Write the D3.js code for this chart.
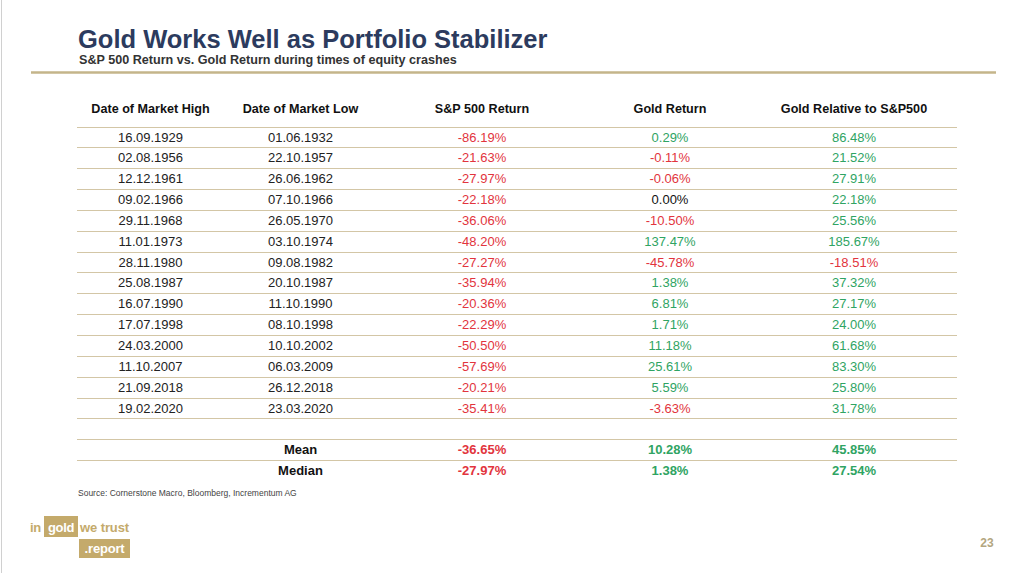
<!DOCTYPE html>
<html><head><meta charset="utf-8">
<script src="https://cdn.jsdelivr.net/npm/d3@7"></script>
<style>html,body{margin:0;padding:0;background:#fff;}svg{display:block;font-family:"Liberation Sans",Arial,sans-serif;}</style>
</head><body>
<script>
const columns = ["Date of Market High","Date of Market Low","S&P 500 Return","Gold Return","Gold Relative to S&P500"];
const marketHigh = ["16.09.1929","02.08.1956","12.12.1961","09.02.1966","29.11.1968","11.01.1973","28.11.1980","25.08.1987","16.07.1990","17.07.1998","24.03.2000","11.10.2007","21.09.2018","19.02.2020"];
const marketLow = ["01.06.1932","22.10.1957","26.06.1962","07.10.1966","26.05.1970","03.10.1974","09.08.1982","20.10.1987","11.10.1990","08.10.1998","10.10.2002","06.03.2009","26.12.2018","23.03.2020"];
const spReturn = [-86.19,-21.63,-27.97,-22.18,-36.06,-48.20,-27.27,-35.94,-20.36,-22.29,-50.50,-57.69,-20.21,-35.41];
const goldReturn = [0.29,-0.11,-0.06,0.00,-10.50,137.47,-45.78,1.38,6.81,1.71,11.18,25.61,5.59,-3.63];
const goldRelative = [86.48,21.52,27.91,22.18,25.56,185.67,-18.51,37.32,27.17,24.00,61.68,83.30,25.80,31.78];
const summaryLabels = ["Mean","Median"];
const summarySP = [-36.65,-27.97];
const summaryGold = [10.28,1.38];
const summaryRel = [45.85,27.54];

const W=1024,H=573;
const svg=d3.select("body").append("svg").attr("width",W).attr("height",H);
const RED="#e2343d", GREEN="#2fa463", BLACK="#111", LINE="#d3c6a6";

svg.append("line").attr("x1",1.5).attr("x2",1.5).attr("y1",0).attr("y2",H).attr("stroke","#d0d0d0").attr("stroke-width",1);

svg.append("text").attr("x",78).attr("y",48).attr("font-size",25.5).attr("font-weight","bold").attr("fill","#2c3b5e").text("Gold Works Well as Portfolio Stabilizer");
svg.append("text").attr("x",79).attr("y",64).attr("font-size",12.6).attr("font-weight","bold").attr("fill","#333").text("S&P 500 Return vs. Gold Return during times of equity crashes");
svg.append("line").attr("x1",31).attr("x2",996).attr("y1",72.5).attr("y2",72.5).attr("stroke","#c4b58a").attr("stroke-width",2.5);

// layout scales
const colX = d3.scaleOrdinal().domain(columns).range([150.5,300.5,482,670,854]);
const nRows = marketHigh.length + 1 + summaryLabels.length; // data rows + blank + summary
const y = d3.scaleLinear().domain([0,nRows]).range([126.5,126.5+20.85*nRows]);
const rowBaseline = k => y(k-0.5)+4.6;   // k = 1..nRows

const linesIdx = d3.range(0,nRows);
svg.append("g").selectAll("line").data(linesIdx).join("line")
  .attr("x1",77).attr("x2",957).attr("y1",d=>Math.round(y(d))+0.5).attr("y2",d=>Math.round(y(d))+0.5)
  .attr("stroke",LINE).attr("stroke-width",1);

// header
svg.append("g").selectAll("text").data(columns).join("text")
  .attr("x",d=>colX(d)).attr("y",113).attr("text-anchor","middle").attr("font-size",12.6).attr("font-weight","bold").attr("fill",BLACK).text(d=>d);

const fmt = v => v.toFixed(2)+"%";
const col = v => v<0?RED:(v>0?GREEN:BLACK);
const rows = marketHigh.map((d,i)=>({i, cells:[
  {t:d,c:"#222"},{t:marketLow[i],c:"#222"},
  {t:fmt(spReturn[i]),c:col(spReturn[i])},
  {t:fmt(goldReturn[i]),c:col(goldReturn[i])},
  {t:fmt(goldRelative[i]),c:col(goldRelative[i])}]}));
const g=svg.append("g");
rows.forEach(r=>{
  g.append("g").selectAll("text").data(r.cells).join("text")
   .attr("x",(d,j)=>colX(columns[j])).attr("y",rowBaseline(r.i+1)).attr("text-anchor","middle")
   .attr("font-size",13).attr("fill",d=>d.c).text(d=>d.t);
});
summaryLabels.forEach((lab,k)=>{
  const ri = marketHigh.length+2+k;
  const cells=[{t:lab,c:BLACK,j:1},{t:fmt(summarySP[k]),c:col(summarySP[k]),j:2},{t:fmt(summaryGold[k]),c:col(summaryGold[k]),j:3},{t:fmt(summaryRel[k]),c:col(summaryRel[k]),j:4}];
  g.append("g").selectAll("text").data(cells).join("text")
   .attr("x",d=>colX(columns[d.j])).attr("y",rowBaseline(ri)).attr("text-anchor","middle")
   .attr("font-size",13).attr("font-weight","bold").attr("fill",d=>d.c).text(d=>d.t);
});

svg.append("text").attr("x",78).attr("y",496).attr("font-size",8.5).attr("fill","#444").text("Source: Cornerstone Macro, Bloomberg, Incrementum AG");

// logo
const GOLD="#c4aa6b";
svg.append("text").attr("x",30).attr("y",532).attr("font-size",13).attr("font-weight","bold").attr("fill",GOLD).attr("letter-spacing",-0.3).text("in");
svg.append("rect").attr("x",44).attr("y",516).attr("width",34).attr("height",21).attr("fill",GOLD);
svg.append("text").attr("x",61).attr("y",532).attr("text-anchor","middle").attr("font-size",13).attr("font-weight","bold").attr("fill","#fff").attr("letter-spacing",-0.3).text("gold");
svg.append("text").attr("x",80).attr("y",532).attr("font-size",13).attr("font-weight","bold").attr("fill",GOLD).attr("letter-spacing",-0.1).text("we trust");
svg.append("rect").attr("x",79).attr("y",539).attr("width",51).attr("height",19).attr("fill",GOLD);
svg.append("text").attr("x",104.5).attr("y",553).attr("text-anchor","middle").attr("font-size",13).attr("font-weight","bold").attr("fill","#fff").attr("letter-spacing",-0.2).text(".report");

svg.append("text").attr("x",987).attr("y",547).attr("text-anchor","middle").attr("font-size",12).attr("font-weight","bold").attr("fill","#b3a680").text("23");
</script>
</body></html>
